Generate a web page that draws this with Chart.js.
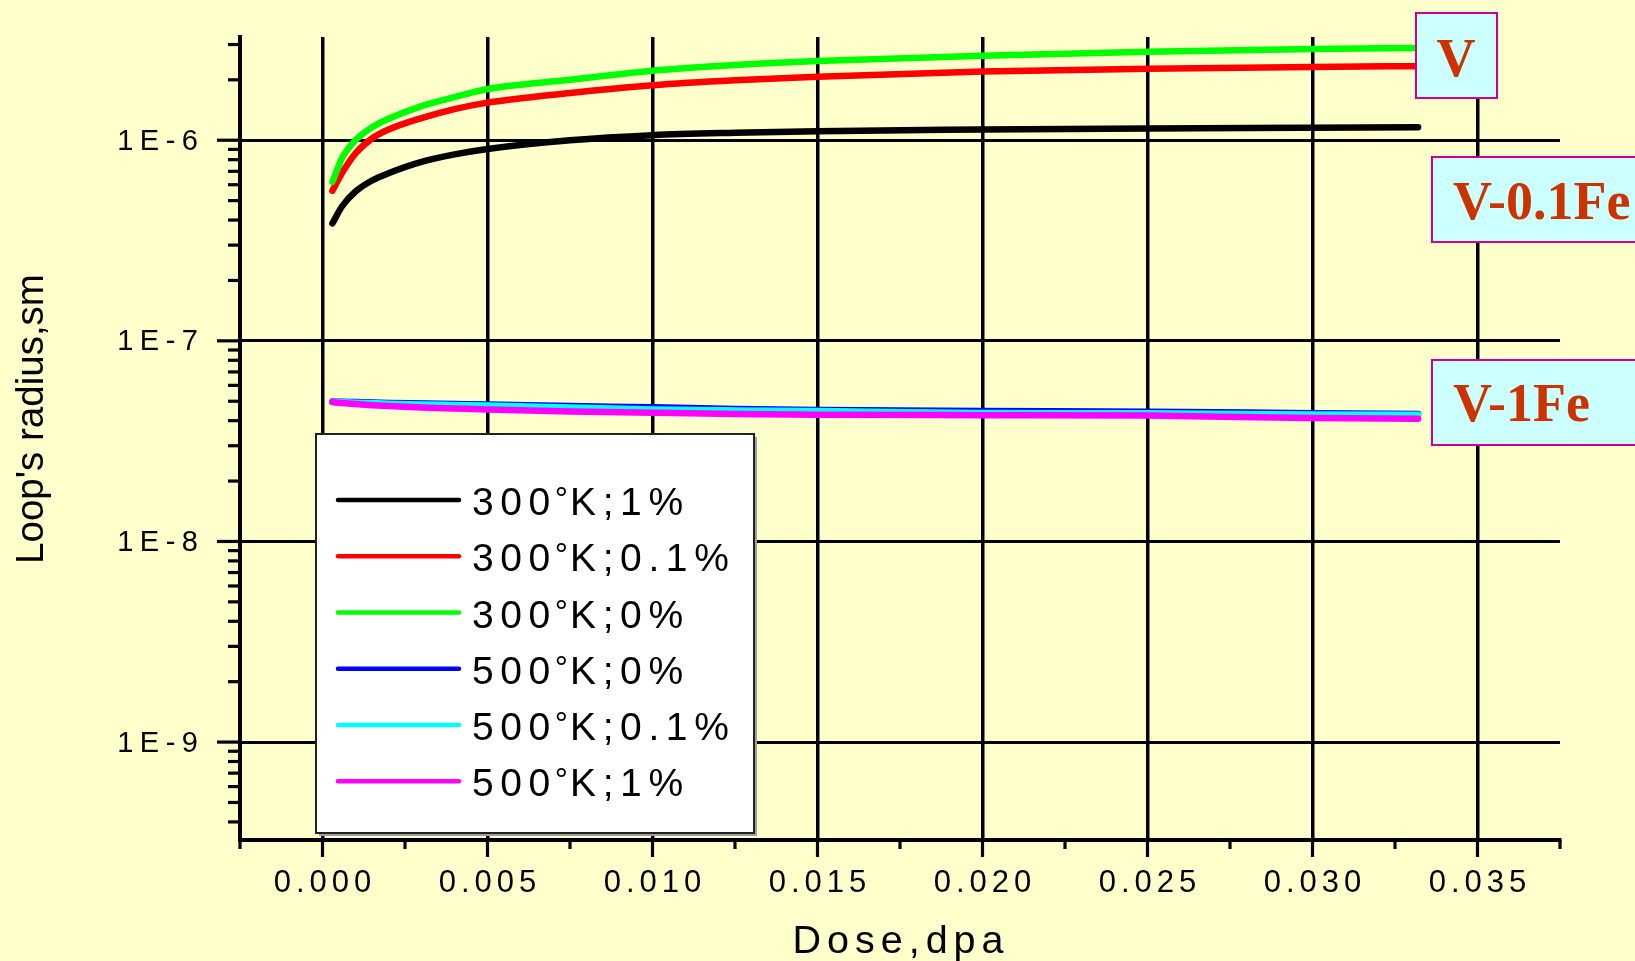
<!DOCTYPE html>
<html>
<head>
<meta charset="utf-8">
<title>Loop's radius vs dose</title>
<script src="https://cdn.jsdelivr.net/npm/chart.js@4.4.1/dist/chart.umd.min.js"></script>
<style>
  html, body { margin: 0; padding: 0; background: #ffffcc; }
  #wrap { width: 1635px; height: 961px; }
</style>
</head>
<body>
<div id="wrap"><canvas id="chart" width="1635" height="961"></canvas></div>
<script>
// Dose, dpa - shared by every curve
const dose = [0.0003, 0.0006, 0.001, 0.0015, 0.002, 0.003, 0.004, 0.005, 0.0075, 0.010, 0.0125, 0.015, 0.020, 0.025, 0.030, 0.0332];

// Loop's radius, sm
const r300_1   = [3.85e-7, 4.7e-7, 5.55e-7, 6.3e-7, 6.85e-7, 7.8e-7, 8.5e-7, 9.05e-7, 1.0e-6, 1.06e-6, 1.09e-6, 1.11e-6, 1.13e-6, 1.145e-6, 1.155e-6, 1.16e-6];
const r300_01  = [5.6e-7, 6.9e-7, 8.6e-7, 1.02e-6, 1.13e-6, 1.29e-6, 1.43e-6, 1.54e-6, 1.72e-6, 1.88e-6, 1.99e-6, 2.07e-6, 2.2e-6, 2.27e-6, 2.32e-6, 2.34e-6];
const r300_0   = [6.2e-7, 8.2e-7, 1.0e-6, 1.16e-6, 1.28e-6, 1.48e-6, 1.64e-6, 1.8e-6, 2.0e-6, 2.22e-6, 2.37e-6, 2.48e-6, 2.64e-6, 2.76e-6, 2.85e-6, 2.88e-6];
const r500_0   = [4.98e-8, 4.97e-8, 4.95e-8, 4.93e-8, 4.9e-8, 4.87e-8, 4.84e-8, 4.81e-8, 4.73e-8, 4.66e-8, 4.58e-8, 4.52e-8, 4.47e-8, 4.43e-8, 4.36e-8, 4.32e-8];
const r500_01  = [4.96e-8, 4.94e-8, 4.92e-8, 4.89e-8, 4.86e-8, 4.82e-8, 4.79e-8, 4.76e-8, 4.65e-8, 4.55e-8, 4.5e-8, 4.47e-8, 4.37e-8, 4.35e-8, 4.3e-8, 4.28e-8];
const r500_1   = [4.95e-8, 4.9e-8, 4.84e-8, 4.78e-8, 4.73e-8, 4.65e-8, 4.6e-8, 4.55e-8, 4.45e-8, 4.38e-8, 4.32e-8, 4.28e-8, 4.26e-8, 4.24e-8, 4.12e-8, 4.09e-8];

const seriesValues = [r300_1, r300_01, r300_0, r500_0, r500_01, r500_1];
const seriesLabels = ['300°K;1%', '300°K;0.1%', '300°K;0%', '500°K;0%', '500°K;0.1%', '500°K;1%'];
const seriesColors = ['#000000', '#ff0000', '#00ff00', '#0000ff', '#00ffff', '#ff00ff'];

// axes
const xMin = -0.0025, xMax = 0.0375;
const xTickValues = [-0.0025, 0, 0.0025, 0.005, 0.0075, 0.010, 0.0125, 0.015, 0.0175, 0.020, 0.0225, 0.025, 0.0275, 0.030, 0.0325, 0.035, 0.0375];
const xMajorValues = [0, 0.005, 0.010, 0.015, 0.020, 0.025, 0.030, 0.035];
const xTickLabels = ['0.000', '0.005', '0.010', '0.015', '0.020', '0.025', '0.030', '0.035'];
const yMin = 3.25e-10, yMax = 3.27e-6;
const yMajorValues = [1e-9, 1e-8, 1e-7, 1e-6];
const yTickLabels = ['1E-9', '1E-8', '1E-7', '1E-6'];
const xTitle = 'Dose,dpa';
const yTitle = "Loop's radius,sm";
const boxLabels = ['V', 'V-0.1Fe', 'V-1Fe'];

const SANS = '"Liberation Sans", Arial, sans-serif';
const SERIF = '"Liberation Serif", "Times New Roman", serif';

function isMajorX(v) {
    return xMajorValues.some(m => Math.abs(m - v) < 1e-9);
}

function isMajorY(v) {
    const e = Math.log10(v);
    return Math.abs(e - Math.round(e)) < 1e-9;
}

// log minor ticks 1..9 x 10^n inside the axis range
function logTicks(min, max) {
    const ticks = [];
    for (let e = Math.floor(Math.log10(min)); e <= Math.ceil(Math.log10(max)); e++) {
        for (let m = 1; m <= 9; m++) {
            const v = m * Math.pow(10, e);
            if (v >= min && v <= max) ticks.push({ value: v });
        }
    }
    return ticks;
}

function spacedText(ctx, text, x, y, font, spacing, align) {
    ctx.save();
    ctx.font = font;
    ctx.letterSpacing = spacing + 'px';
    ctx.textAlign = align;
    // canvas puts spacing after the last glyph too
    const shift = align === 'right' ? spacing : (align === 'center' ? spacing / 2 : 0);
    ctx.fillText(text, x + shift, y);
    ctx.restore();
}

function line(ctx, x1, y1, x2, y2) {
    ctx.beginPath();
    ctx.moveTo(x1, y1);
    ctx.lineTo(x2, y2);
    ctx.stroke();
}

const decorations = {
    id: 'decorations',
    beforeDraw(chart) {
        const ctx = chart.ctx;
        ctx.save();
        ctx.fillStyle = '#ffffcc';
        ctx.fillRect(0, 0, chart.width, chart.height);
        ctx.restore();
    },
    afterDraw(chart) {
        const ctx = chart.ctx;
        const { x, y } = chart.scales;
        const area = chart.chartArea;

        ctx.save();
        ctx.fillStyle = '#000';
        ctx.strokeStyle = '#000';
        ctx.lineWidth = 3.2;

        // tick marks outside the axes
        y.ticks.forEach(t => {
            const py = y.getPixelForValue(t.value);
            const len = isMajorY(t.value) ? 23 : 12;
            line(ctx, area.left - len, py, area.left, py);
        });
        x.ticks.forEach(t => {
            const px = x.getPixelForValue(t.value);
            const len = isMajorX(t.value) ? 17 : 9;
            line(ctx, px, area.bottom, px, area.bottom + len);
        });

        // tick labels
        yMajorValues.forEach((v, i) => {
            spacedText(ctx, yTickLabels[i], 198, y.getPixelForValue(v) + 9.5, '29px ' + SANS, 6.5, 'right');
        });
        xMajorValues.forEach((v, i) => {
            spacedText(ctx, xTickLabels[i], x.getPixelForValue(v), 891.5, '31px ' + SANS, 5, 'center');
        });

        // axis titles
        spacedText(ctx, xTitle, 898, 953, '39.5px ' + SANS, 6, 'center');
        ctx.save();
        ctx.translate(43, 419);
        ctx.rotate(-Math.PI / 2);
        ctx.font = '38.5px ' + SANS;
        ctx.textAlign = 'center';
        ctx.fillText(yTitle, 0, 0);
        ctx.restore();

        drawLegend(ctx);
        drawLabelBoxes(ctx);
        ctx.restore();
    }
};

function drawLegend(ctx) {
    const bx = 316, by = 434, bw = 438, bh = 399;
    ctx.save();
    ctx.fillStyle = '#a0a0a0';
    ctx.fillRect(bx + 3, by + 3, bw, bh);
    ctx.fillStyle = '#ffffff';
    ctx.fillRect(bx, by, bw, bh);
    ctx.strokeStyle = '#222';
    ctx.lineWidth = 2;
    ctx.strokeRect(bx, by, bw, bh);

    seriesLabels.forEach((label, i) => {
        const ry = 500 + i * 56.25;
        ctx.strokeStyle = seriesColors[i];
        ctx.lineWidth = 4.5;
        ctx.lineCap = 'round';
        line(ctx, 338, ry, 459, ry);

        const parts = label.split('°');
        const base = ry + 15;
        ctx.fillStyle = '#000';
        ctx.textAlign = 'left';
        let tx = 472;
        ctx.font = '39px ' + SANS;
        ctx.letterSpacing = '6.6px';
        ctx.fillText(parts[0], tx, base);
        tx += ctx.measureText(parts[0]).width;
        ctx.font = '33px ' + SANS;
        ctx.letterSpacing = '3px';
        ctx.fillText('°', tx - 2, base - 5);
        tx += ctx.measureText('°').width - 3;
        ctx.font = '39px ' + SANS;
        ctx.letterSpacing = '6.6px';
        ctx.fillText(parts[1], tx, base);
    });
    ctx.restore();
}

function drawLabelBoxes(ctx) {
    const boxes = [
        { x: 1416, y: 13, w: 81, h: 85, tx: 1456, ty: 76, align: 'center' },
        { x: 1432, y: 157, w: 220, h: 85, tx: 1453, ty: 219, align: 'left' },
        { x: 1432, y: 360, w: 220, h: 85, tx: 1453, ty: 421, align: 'left' }
    ];
    ctx.save();
    boxes.forEach((b, i) => {
        ctx.fillStyle = '#ccffff';
        ctx.fillRect(b.x, b.y, b.w, b.h);
        ctx.strokeStyle = '#cc0099';
        ctx.lineWidth = 2;
        ctx.strokeRect(b.x, b.y, b.w, b.h);
        ctx.fillStyle = '#cc3300';
        ctx.font = 'bold 54px ' + SERIF;
        ctx.letterSpacing = '0px';
        ctx.textAlign = b.align;
        ctx.fillText(boxLabels[i], b.tx, b.ty);
    });
    ctx.restore();
}

const datasets = seriesValues.map((vals, i) => ({
    label: seriesLabels[i],
    data: dose.map((d, k) => ({ x: d, y: vals[k] })),
    borderColor: seriesColors[i],
    backgroundColor: seriesColors[i],
    borderWidth: 6.5,
    borderCapStyle: 'round',
    borderJoinStyle: 'round',
    pointRadius: 0,
    cubicInterpolationMode: 'monotone',
    fill: false,
    order: seriesValues.length - i
}));

new Chart(document.getElementById('chart'), {
    type: 'line',
    data: { datasets: datasets },
    options: {
        responsive: false,
        animation: false,
        events: [],
        layout: { padding: { left: 240, right: 75, top: 37, bottom: 121 } },
        plugins: {
            legend: { display: false },
            tooltip: { enabled: false }
        },
        scales: {
            x: {
                type: 'linear',
                min: xMin,
                max: xMax,
                afterBuildTicks: scale => { scale.ticks = xTickValues.map(v => ({ value: v })); },
                afterFit: scale => { scale.height = 0; },
                ticks: { display: false },
                grid: {
                    drawTicks: false,
                    lineWidth: 3.5,
                    color: c => (c.tick && isMajorX(c.tick.value)) ? '#000' : 'rgba(0,0,0,0)'
                },
                border: { display: true, color: '#000', width: 4 }
            },
            y: {
                type: 'logarithmic',
                min: yMin,
                max: yMax,
                afterBuildTicks: scale => { scale.ticks = logTicks(yMin, yMax); },
                afterFit: scale => { scale.width = 0; },
                ticks: { display: false },
                grid: {
                    drawTicks: false,
                    lineWidth: 3,
                    color: c => (c.tick && isMajorY(c.tick.value)) ? '#000' : 'rgba(0,0,0,0)'
                },
                border: { display: true, color: '#000', width: 4 }
            }
        }
    },
    plugins: [decorations]
});
</script>
</body>
</html>
